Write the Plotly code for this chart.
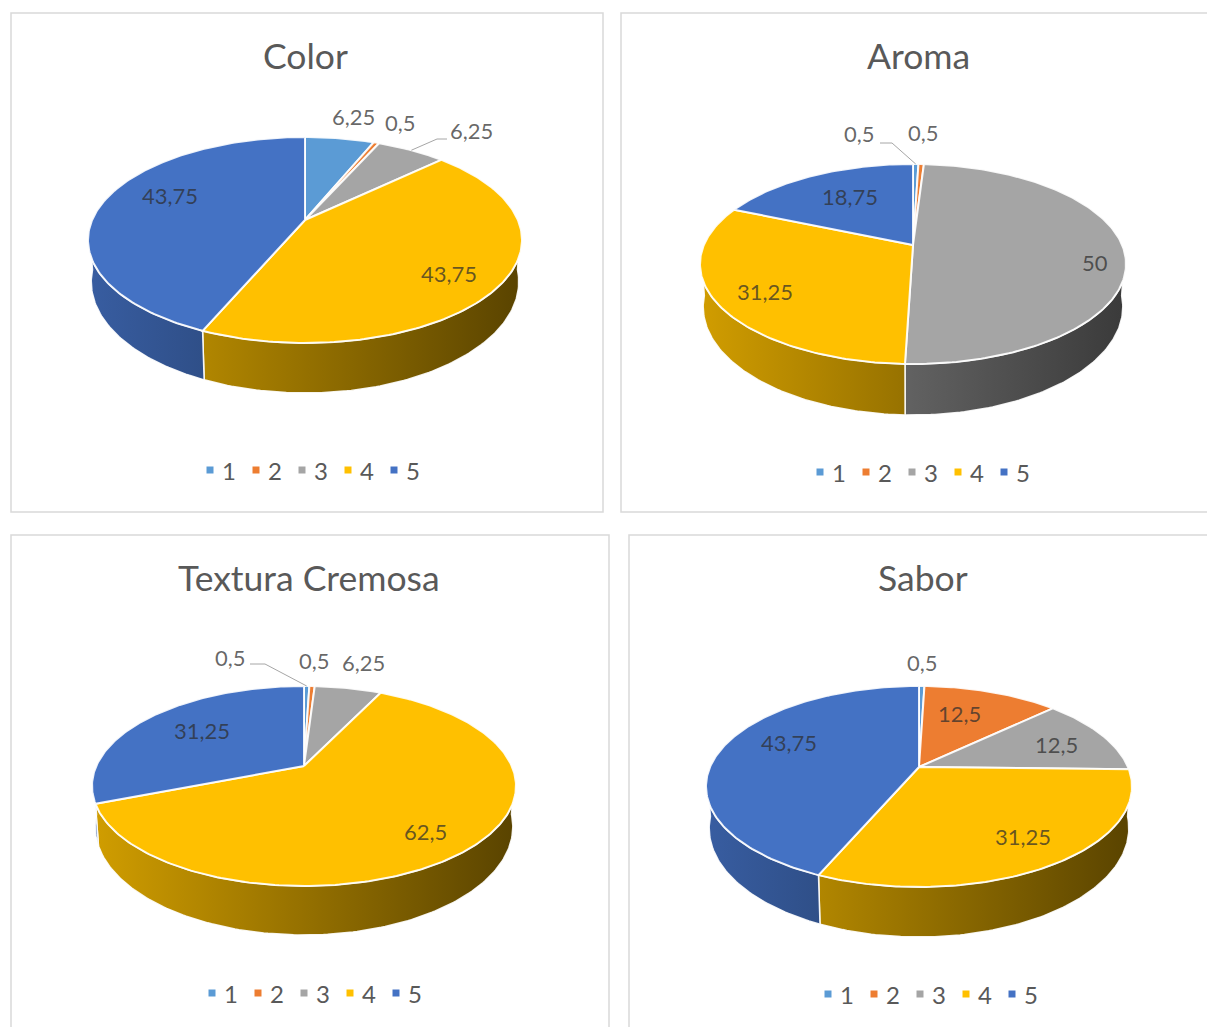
import math
import plotly.graph_objects as go

# ---------- data ----------
categories = ["1", "2", "3", "4", "5"]
titles = ["Color", "Aroma", "Textura Cremosa", "Sabor"]
color_values = [6.25, 0.5, 6.25, 43.75, 43.75]
aroma_values = [0.5, 0.5, 50, 31.25, 18.75]
textura_values = [0.5, 0.5, 6.25, 62.5, 31.25]
sabor_values = [0.5, 12.5, 12.5, 31.25, 43.75]
series = [color_values, aroma_values, textura_values, sabor_values]

# ---------- style / layout ----------
COLORS = ["#5B9BD5", "#ED7D31", "#A5A5A5", "#FFC000", "#4472C4"]
RGB = [(0x5B, 0x9B, 0xD5), (0xED, 0x7D, 0x31), (0xA5, 0xA5, 0xA5), (0xFF, 0xC0, 0x00), (0x44, 0x72, 0xC4)]
FONT = "Lato"
LEGEND_STEP = 46
LEGEND_TEXT_GAP = 19
PANELS = [
    dict(box=(11, 13, 603, 512), apex=(305, 220), xext=217, up=83, down=123, depth=50,
         title=(305, 55), legend=(210, 470),
         labels=[(353, 116), (400, 122), (471, 130), (449, 273), (170, 195)],
         leaders={2: [(447, 139), (437, 139)]}),
    dict(box=(621, 13, 1230, 512), apex=(913, 245), xext=213, up=81, down=119, depth=51,
         title=(918, 55), legend=(820, 472),
         labels=[(859, 133), (923, 132), (1095, 262), (765, 291), (850, 196)],
         leaders={0: [(880, 143), (892, 143)]}),
    dict(box=(11, 535, 609, 1050), apex=(304, 766), xext=212, up=80, down=120, depth=49,
         title=(309, 577), legend=(212, 993),
         labels=[(230, 657), (314, 660), (363, 662), (425, 831), (202, 730)],
         leaders={0: [(250, 664), (265, 664)]}),
    dict(box=(629, 535, 1230, 1050), apex=(919, 767), xext=213, up=81, down=120, depth=50,
         title=(923, 577), legend=(828, 994),
         labels=[(922, 662), (959, 713), (1056, 744), (1023, 836), (789, 742)],
         leaders={}),
]


def fmt(v):
    return f"{v:g}".replace(".", ",")


def shade(rgb, f):
    return "rgb(%d,%d,%d)" % tuple(round(c * f) for c in rgb)


fig = go.Figure()
shapes, annotations = [], []

for idx, (panel, values, title) in enumerate(zip(PANELS, series, titles)):
    cx, cy = panel["apex"]
    k = (panel["down"] - panel["up"]) / (panel["down"] + panel["up"])
    ry = panel["up"] * (1 + k)
    rx = panel["xext"] * math.sqrt(1 - k * k)
    hh = panel["depth"] * (1 - k)

    def top(a):
        d = -math.cos(a)
        w = 1 - k * d
        return cx + rx * math.sin(a) / w, cy + ry * d / w

    def bottom(a):
        d = -math.cos(a)
        w = 1 - k * d
        return cx + 0.985 * rx * math.sin(a) / w, cy + (ry * d + hh) / w

    total = sum(values)
    angles = [0.0]
    for v in values:
        angles.append(angles[-1] + v / total * 2 * math.pi)

    x0, y0, x1, y1 = panel["box"]
    shapes.append(dict(type="rect", xref="x", yref="y", x0=x0, y0=y0, x1=x1, y1=y1,
                       line=dict(color="#D9D9D9", width=1.5), fillcolor="white", layer="below"))

    left = cx - panel["xext"]
    span = 2 * panel["xext"]

    # outer wall of each slice, seen from the front
    lo, hi = math.radians(95), math.radians(265)
    for i in range(5):
        a0, a1 = max(angles[i], lo), min(angles[i + 1], hi)
        if a1 <= a0:
            continue
        n = max(4, int((a1 - a0) * 60))
        arc = [a0 + (a1 - a0) * j / n for j in range(n + 1)]
        upper = [top(a) for a in arc]
        lower = [bottom(a) for a in reversed(arc)]
        pts = upper + lower + upper[:1]
        xs = [p[0] for p in pts]
        ys = [p[1] for p in pts]
        tl = (min(xs) - left) / span
        tr = (max(xs) - left) / span
        cl = shade(RGB[i], 0.82 - 0.47 * tl)
        cr = shade(RGB[i], 0.82 - 0.47 * tr)
        fig.add_trace(go.Scatter(
            x=xs, y=ys, mode="lines", fill="toself",
            fillgradient=dict(type="horizontal", colorscale=[[0, cl], [1, cr]]),
            line=dict(color="rgba(255,255,255,0.9)", width=1.5),
            hoverinfo="skip", showlegend=False))

    # upper face of each slice
    for i in range(5):
        a0, a1 = angles[i], angles[i + 1]
        n = max(3, int((a1 - a0) * 60))
        arc = [a0 + (a1 - a0) * j / n for j in range(n + 1)]
        pts = [(cx, cy)] + [top(a) for a in arc] + [(cx, cy)]
        fig.add_trace(go.Scatter(
            x=[p[0] for p in pts], y=[p[1] for p in pts], mode="lines",
            fill="toself", fillcolor=COLORS[i],
            line=dict(color="rgba(255,255,255,0.9)", width=2),
            name=categories[i], text=fmt(values[i]), hoverinfo="name+text",
            showlegend=False))

    # leader lines
    for i, elbow in panel["leaders"].items():
        mid = (angles[i] + angles[i + 1]) / 2
        px, py = top(mid)
        fig.add_trace(go.Scatter(
            x=[e[0] for e in elbow] + [px], y=[e[1] for e in elbow] + [py],
            mode="lines", line=dict(color="#A6A6A6", width=1),
            hoverinfo="skip", showlegend=False))

    # data labels
    for v, (lx, ly) in zip(values, panel["labels"]):
        annotations.append(dict(x=lx, y=ly, xref="x", yref="y", text=fmt(v), showarrow=False,
                                xanchor="center", yanchor="middle",
                                font=dict(family=FONT, size=22, color="rgba(45,45,45,0.72)")))

    # title
    tx, ty = panel["title"]
    annotations.append(dict(x=tx, y=ty, xref="x", yref="y", text=title, showarrow=False,
                            xanchor="center", yanchor="middle",
                            font=dict(family=FONT, size=35.5, color="#595959")))

    # legend row
    lx, ly = panel["legend"]
    mx = [lx + LEGEND_STEP * i for i in range(5)]
    fig.add_trace(go.Scatter(x=mx, y=[ly] * 5, mode="markers",
                             marker=dict(symbol="square", size=7, color=COLORS),
                             hoverinfo="skip", showlegend=False))
    for m, cat in zip(mx, categories):
        annotations.append(dict(x=m + LEGEND_TEXT_GAP, y=ly, xref="x", yref="y", text=cat,
                                showarrow=False, xanchor="center", yanchor="middle",
                                font=dict(family=FONT, size=24, color="#595959")))

fig.update_layout(
    width=1207, height=1027, margin=dict(l=0, r=0, t=0, b=0),
    paper_bgcolor="white", plot_bgcolor="white", showlegend=False,
    xaxis=dict(range=[0, 1207], visible=False, fixedrange=True),
    yaxis=dict(range=[1027, 0], visible=False, fixedrange=True),
    shapes=shapes, annotations=annotations)

fig.write_html("out.html", config=dict(displayModeBar=False),
               post_script="document.body.style.margin='0';")
